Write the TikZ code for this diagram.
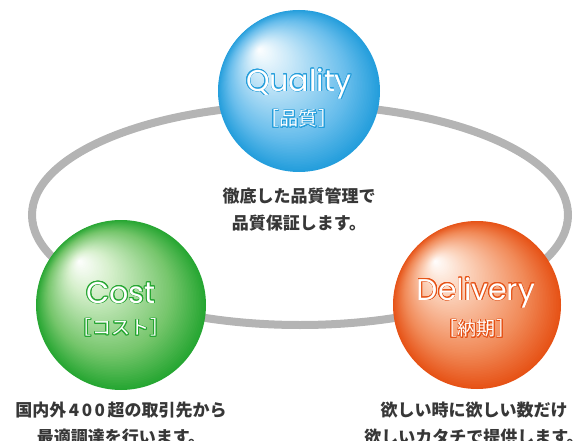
\documentclass[tikz,border=0pt]{standalone}
\usepackage{fontspec}
\setmainfont{Poppins}
\newfontfamily\cjk{Noto Sans CJK JP}
\usepackage{contour}
\contourlength{0.7pt}
\usetikzlibrary{shapes.geometric}
\definecolor{ringgray}{RGB}{180,180,180}
\definecolor{captext}{RGB}{55,55,55}
\definecolor{qedge}{RGB}{36,158,220}
\definecolor{qmid}{RGB}{105,190,236}
\definecolor{qlight}{RGB}{205,234,249}
\definecolor{cedge}{RGB}{38,166,50}
\definecolor{cmid}{RGB}{118,198,108}
\definecolor{clight}{RGB}{215,240,205}
\definecolor{dedge}{RGB}{230,82,22}
\definecolor{dmid}{RGB}{241,138,88}
\definecolor{dlight}{RGB}{252,214,192}
% #1 cx, #2 cy, #3 R, #4 hx, #5 hy, #6 edge, #7 mid, #8 light
\newcommand\spherepaint[8]{%
  \foreach \i in {0,...,79}{%
    \pgfmathsetmacro\tt{\i/80}%
    \pgfmathsetmacro\rr{#3*(1-\tt)}%
    \pgfmathsetmacro\xx{#1+#4*\tt}%
    \pgfmathsetmacro\yy{#2+#5*\tt}%
    \ifnum\i<22
      \pgfmathsetmacro\pp{\i/22*100}\colorlet{sph}{#7!\pp!#6}%
    \else\ifnum\i<60
      \pgfmathsetmacro\pp{(\i-22)/38*100}\colorlet{sph}{#8!\pp!#7}%
    \else
      \pgfmathsetmacro\pp{(\i-60)/20*100}\colorlet{sph}{white!\pp!#8}%
    \fi\fi
    \fill[sph] (\xx,\yy) circle[radius=\rr pt];
  }%
}
\tikzset{
  ring/.style={ellipse, draw=ringgray, line width=8pt, inner sep=0pt},
  sphere/.style={circle, inner sep=0pt},
  title/.style={text=white, inner sep=0pt, font=\fontsize{30}{32}\selectfont},
  subtitle/.style={text=white, inner sep=0pt, font=\cjk\fontsize{19}{21}\selectfont},
  caption/.style={text=captext, inner sep=0pt, align=center, font=\cjk\bfseries\fontsize{17}{27}\selectfont}
}
\begin{document}
\begin{tikzpicture}[x=1pt,y=-1pt]
\useasboundingbox (0,0) rectangle (581,441);
\node[ring, minimum width=536pt, minimum height=220pt] (ringe) at (300,215) {};
\node[sphere, minimum size=162pt] (quality) at (299,91) {};
\node[sphere, minimum size=170pt] (cost) at (121,305) {};
\node[sphere, minimum size=168pt] (delivery) at (477,305) {};
\spherepaint{299}{91}{81}{-40}{-42}{qedge}{qmid}{qlight}
\spherepaint{121}{305}{85}{-42}{-44}{cedge}{cmid}{clight}
\spherepaint{477}{305}{84}{-42}{-44}{dedge}{dmid}{dlight}
\node[title] (qt) at (299,84) {\contour{qedge}{Quality}};
\node[subtitle] (qs) at (299,119) {\contour{qedge}{［\kern1pt 品質\kern1pt ］}};
\node[title] (ct) at (121,293) {\contour{cedge}{Cost}};
\node[subtitle] (cs) at (121,328) {\contour{cedge}{［\kern1pt コスト\kern1pt ］}};
\node[title] (dt) at (476,293) {\contour{dedge}{Delivery}};
\node[subtitle] (ds) at (477,329) {\contour{dedge}{［\kern1pt 納期\kern1pt ］}};
\node[caption] (qc) at (299,209) {徹底した品質管理で\\品質保証します。};
\node[caption] (cc) at (121,424) {国内外\kern2.5pt 4\kern2.5pt 0\kern2.5pt 0\kern2.5pt 超の取引先から\\最適調達を行います。};
\node[caption] (dc) at (474,424) {欲しい時に欲しい数だけ\\欲しいカタチで提供します。};
\end{tikzpicture}
\end{document}
